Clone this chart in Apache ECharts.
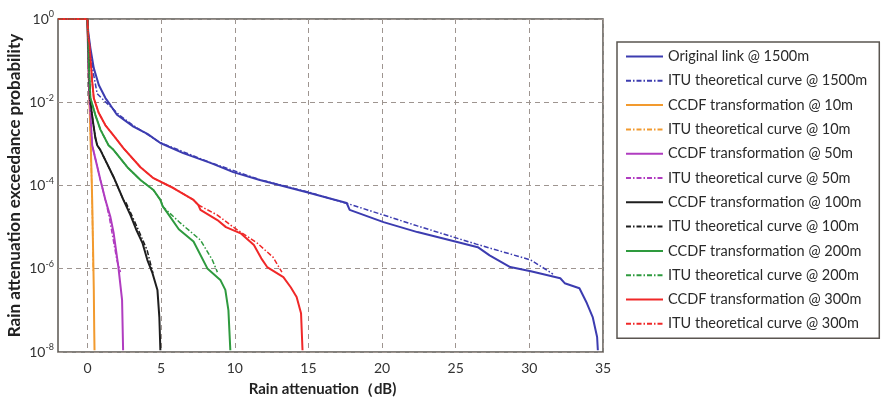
<!DOCTYPE html>
<html>
<head>
<meta charset="utf-8">
<script src="https://cdn.jsdelivr.net/npm/echarts@6/dist/echarts.min.js"></script>
<style>
html,body{margin:0;padding:0;background:#fff;}
#chart{width:883px;height:401px;}
</style>
</head>
<body>
<div id="chart"></div>
<script>
// x: rain attenuation (dB), y: exceedance probability
const xTicks = [0, 5, 10, 15, 20, 25, 30, 35];
const yTickExponents = [0, -2, -4, -6, -8];

const legendNames = [
  'Original link @ 1500m', 'ITU theoretical curve @ 1500m',
  'CCDF transformation @ 10m', 'ITU theoretical curve @ 10m',
  'CCDF transformation @ 50m', 'ITU theoretical curve @ 50m',
  'CCDF transformation @ 100m', 'ITU theoretical curve @ 100m',
  'CCDF transformation @ 200m', 'ITU theoretical curve @ 200m',
  'CCDF transformation @ 300m', 'ITU theoretical curve @ 300m'
];

const orig1500 = [[-2,1],[0,1],[0.05,0.5],[0.2,0.2],[0.43,6.6e-2],[0.77,2.6e-2],[1.22,1.26e-2],[1.56,8.5e-3],[2.0,5.0e-3],[3.12,2.6e-3],[4.07,1.74e-3],[4.95,1.05e-3],[6.5,6.0e-4],[8.35,3.5e-4],[9.9,2.1e-4],[11.7,1.35e-4],[14.9,6.9e-5],[17.6,3.8e-5],[17.8,2.6e-5],[20.1,1.32e-5],[22.4,7.6e-6],[25.1,4.4e-6],[26.5,3.3e-6],[27.3,2.1e-6],[28.7,1.1e-6],[30.1,8.7e-7],[32.1,5.9e-7],[32.4,4.5e-7],[33.4,3.4e-7],[33.9,1.5e-7],[34.3,6.9e-8],[34.6,2.3e-8],[34.65,1.1e-8]];
const itu1500 = [[-2,1],[0,1],[0.05,0.45],[0.2,0.16],[0.4,5.0e-2],[0.66,1.6e-2],[1.1,1.12e-2],[1.56,7.9e-3],[2.2,4.8e-3],[3.12,2.75e-3],[4.95,1.07e-3],[8.35,3.55e-4],[11.7,1.38e-4],[14.9,7.1e-5],[17.8,3.55e-5],[20.1,1.95e-5],[22.4,1.07e-5],[26.4,3.9e-6],[30.1,1.62e-6],[31.4,8.3e-7],[31.6,7.4e-7]];
const ccdf10 = [[-2,1],[0,1],[0.03,0.32],[0.1,3.2e-2],[0.18,3.2e-3],[0.26,3.2e-4],[0.32,4.5e-5],[0.38,3.2e-6],[0.43,3.2e-7],[0.46,3.2e-8],[0.48,1.1e-8]];
const itu10 = [[-2,1],[0,1],[0.03,0.3],[0.1,3.0e-2],[0.18,3.0e-3],[0.26,3.0e-4],[0.32,4.2e-5],[0.37,3.0e-6],[0.4,8.3e-7]];
const ccdf50 = [[-2,1],[0,1],[0.05,0.1],[0.15,1.0e-2],[0.32,9.3e-4],[0.88,1.35e-4],[1.22,4.5e-5],[1.56,1.74e-5],[1.78,7.1e-6],[2.1,1.1e-6],[2.35,1.78e-7],[2.42,1.1e-8]];
const itu50 = [[-2,1],[0,1],[0.05,0.1],[0.15,1.0e-2],[0.32,9.3e-4],[0.88,1.35e-4],[1.22,4.5e-5],[1.5,1.6e-5],[1.7,6.3e-6],[2.0,1.6e-6],[2.24,8.3e-7]];
const ccdf100 = [[-2,1],[0,1],[0.05,0.25],[0.16,1.26e-2],[0.38,3.3e-3],[0.54,1.38e-3],[0.66,9.3e-4],[0.88,7.1e-4],[1.78,1.58e-4],[2.44,4.5e-5],[2.92,1.95e-5],[3.3,8.9e-6],[3.73,4.2e-6],[4.07,1.62e-6],[4.41,7.9e-7],[4.75,3.1e-7],[4.88,6.9e-8],[4.95,1.1e-8]];
const itu100 = [[-2,1],[0,1],[0.05,0.25],[0.16,1.26e-2],[0.38,3.3e-3],[0.54,1.38e-3],[0.66,9.3e-4],[0.88,7.1e-4],[1.78,1.58e-4],[2.44,4.5e-5],[2.6,4.0e-5],[3.46,8.5e-6],[4.05,2.8e-6],[4.39,9.3e-7],[4.45,7.9e-7]];
const ccdf200 = [[-2,1],[0,1],[0.05,0.3],[0.1,6.3e-2],[0.2,1.26e-2],[0.54,4.9e-3],[0.88,2.2e-3],[1.43,9.3e-4],[1.78,7.1e-4],[2.71,2.75e-4],[3.6,1.35e-4],[4.48,7.8e-5],[4.95,4.5e-5],[5.1,3.2e-5],[5.43,2.2e-5],[6.2,8.9e-6],[7.2,4.5e-6],[8.14,1.02e-6],[9.02,5.4e-7],[9.36,3.1e-7],[9.57,1.0e-7],[9.7,1.1e-8]];
const itu200 = [[-2,1],[0,1],[0.05,0.3],[0.1,6.3e-2],[0.2,1.26e-2],[0.54,4.9e-3],[0.88,2.2e-3],[1.43,9.3e-4],[1.78,7.1e-4],[2.71,2.75e-4],[3.6,1.35e-4],[4.48,7.8e-5],[4.95,4.5e-5],[5.16,3.0e-5],[6.3,1.26e-5],[7.67,4.9e-6],[8.48,1.62e-6],[8.82,8.3e-7]];
const ccdf300 = [[-2,1],[0,1],[0.05,0.4],[0.16,0.2],[0.32,3.2e-2],[0.43,1.26e-2],[0.76,5.6e-3],[1.22,2.8e-3],[1.78,1.58e-3],[2.44,7.9e-4],[3.6,2.75e-4],[4.48,1.5e-4],[5.83,8.7e-5],[7.2,4.5e-5],[7.53,3.4e-5],[7.67,2.6e-5],[8.82,1.48e-5],[9.4,1.0e-5],[10.4,7.1e-6],[11.3,3.7e-6],[11.8,1.78e-6],[12.2,1.1e-6],[13.3,6.3e-7],[13.8,3.6e-7],[14.2,2.1e-7],[14.5,8.5e-8],[14.6,1.1e-8]];
const itu300 = [[-2,1],[0,1],[0.05,0.4],[0.16,0.2],[0.32,3.2e-2],[0.43,1.26e-2],[0.76,5.6e-3],[1.22,2.8e-3],[1.78,1.58e-3],[2.44,7.9e-4],[3.6,2.75e-4],[4.48,1.5e-4],[5.83,8.7e-5],[7.2,4.5e-5],[7.53,3.4e-5],[8.82,1.95e-5],[9.9,1.0e-5],[11.5,4.2e-6],[12.6,1.9e-6],[13.2,8.3e-7]];

const seriesData = [orig1500, itu1500, ccdf10, itu10, ccdf50, itu50, ccdf100, itu100, ccdf200, itu200, ccdf300, itu300];
const colors = ['#3c3cb0', '#3c3cb0', '#f29a2e', '#f29a2e', '#b03cc0', '#b03cc0', '#1e1e1e', '#1e1e1e', '#2e9a3e', '#2e9a3e', '#f02828', '#f02828'];

const FONT = 'Lato, "Open Sans", sans-serif';
const chart = echarts.init(document.getElementById('chart'), null, {renderer: 'canvas'});

const series = seriesData.map((d, i) => ({
  name: legendNames[i],
  type: 'line',
  data: d,
  symbol: 'none',
  color: colors[i],
  lineStyle: i % 2 === 0
    ? {width: 2, color: colors[i], type: 'solid'}
    : {width: 1.5, color: colors[i], type: [5, 2, 1.5, 2]},
  z: i % 2 === 0 ? 3 : 4
}));

chart.setOption({
  animation: false,
  backgroundColor: '#fff',
  textStyle: {fontFamily: FONT},
  grid: {left: 58, top: 19, right: 280, bottom: 49, containLabel: false, outerBoundsMode: 'none',
    show: true, borderColor: '#5a5550', borderWidth: 1.5, backgroundColor: 'transparent'},
  legend: {
    orient: 'vertical', left: 617, top: 42,
    data: legendNames,
    itemWidth: 37, itemHeight: 14, itemGap: 9.3,
    padding: [7, 12, 7, 8],
    borderColor: '#5a5550', borderWidth: 1.5, backgroundColor: '#fff',
    itemStyle: {opacity: 0},
    textStyle: {fontFamily: FONT, fontSize: 14.5, color: '#2a2a2a'}
  },
  xAxis: {
    type: 'value', min: -2, max: 35,
    name: 'Rain attenuation（dB)', nameLocation: 'middle', nameGap: 30,
    nameTextStyle: {fontFamily: FONT, fontSize: 15, fontWeight: 'bold', color: '#222', padding: [0, 16, 0, 0]},
    axisLine: {show: false},
    axisTick: {show: false, customValues: xTicks},
    axisLabel: {
      customValues: xTicks,
      fontFamily: FONT, fontSize: 14, color: '#333', margin: 9
    },
    splitLine: {show: true, lineStyle: {color: '#9e9590', type: [5, 4], width: 1}}
  },
  yAxis: {
    type: 'log', logBase: 10, min: 1e-8, max: 1, interval: 2,
    name: 'Rain attenuation exceedance probability', nameLocation: 'middle', nameGap: 35,
    nameMoveOverlap: false,
    nameTextStyle: {fontFamily: FONT, fontSize: 17, fontWeight: 'bold', color: '#222'},
    axisLine: {show: false}, axisTick: {show: false},
    axisLabel: {
      margin: 4,
      formatter: v => {
        const e = Math.round(Math.log10(v));
        return yTickExponents.indexOf(e) >= 0 ? '{b|10}{s|' + e + '}' : '';
      },
      rich: {
        b: {fontFamily: FONT, fontSize: 14, color: '#333'},
        s: {fontFamily: FONT, fontSize: 9, color: '#333', verticalAlign: 'bottom', padding: [0, 0, 9, 0]}
      }
    },
    splitLine: {show: true, lineStyle: {color: '#9e9590', type: [5, 4], width: 1}}
  },
  series: series
});
</script>
</body>
</html>
